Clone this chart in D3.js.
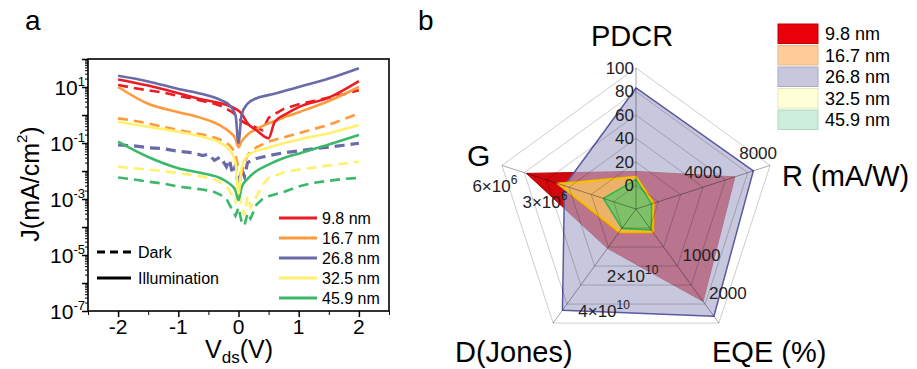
<!DOCTYPE html>
<html>
<head>
<meta charset="utf-8">
<script src="https://cdn.jsdelivr.net/npm/d3@7"></script>
<style>
  body{ margin:0; background:#fff; }
  svg{ font-family:"Liberation Sans", Arial, sans-serif; }
</style>
</head>
<body>
<svg id="fig" width="917" height="369"></svg>
<script>
// ---------- panel a : J-V curves, values are log10(J / mA cm^-2)
var thickness = ["9.8 nm", "16.7 nm", "26.8 nm", "32.5 nm", "45.9 nm"];
var vIllum = [-2, -1.5, -1, -0.6, -0.3, -0.15, -0.05, 0, 0.05, 0.15, 0.3, 0.5, 0.6, 0.8, 1, 1.5, 2];
var illum98  = [1.27, 1.05, 0.78, 0.55, 0.42, 0.32, 0.22, 0.15, 0.05, -0.3, -0.55, -0.83, -0.25, 0.05, 0.28, 0.62, 1.21];
var illum167 = [1.0, 0.4, 0.1, -0.12, -0.38, -0.6, -0.85, -1.15, -0.95, -0.7, -0.5, -0.3, -0.22, -0.05, 0.1, 0.5, 1.0];
var illum268 = [1.4, 1.2, 0.93, 0.75, 0.54, 0.35, 0.0, -1.0, 0.0, 0.4, 0.6, 0.71, 0.76, 0.88, 1.0, 1.3, 1.67];
var illum325 = [-0.24, -0.42, -0.6, -0.78, -1.0, -1.25, -1.7, -2.8, -1.9, -1.45, -1.28, -1.17, -1.1, -0.98, -0.88, -0.65, -0.36];
var illum459 = [-0.95, -1.5, -1.9, -2.08, -2.26, -2.45, -2.7, -3.04, -2.6, -2.28, -2.0, -1.77, -1.67, -1.5, -1.38, -1.05, -0.71];

var vDark = [-2, -1.75, -1.5, -1.25, -1, -0.75, -0.6, -0.5, -0.4, -0.3, -0.2, -0.15, -0.1, -0.05, 0,
             0.05, 0.1, 0.15, 0.2, 0.3, 0.4, 0.5, 0.75, 1, 1.25, 1.5, 1.75, 2];
var dark98  = [1.07, 0.97, 0.88, 0.8, 0.68, 0.58, 0.5, 0.45, 0.4, 0.33, 0.22, 0.16, 0.1, 0.0, -0.12,
               -0.2, -0.28, -0.33, -0.36, -0.45, -0.55, -0.1, 0.22, 0.38, 0.5, 0.62, 0.74, 0.88];
var dark167 = [-0.12, -0.2, -0.3, -0.42, -0.54, -0.64, -0.7, -0.75, -0.8, -0.88, -1.0, -1.08, -1.2, -1.45, -1.9,
               -2.1, -1.7, -1.45, -1.3, -1.15, -1.05, -0.95, -0.8, -0.65, -0.5, -0.35, -0.15, 0.06];
var dark268 = [-1.07, -1.1, -1.17, -1.2, -1.3, -1.35, -1.45, -1.4, -1.62, -1.5, -1.85, -1.6, -2.1, -1.8, -2.6,
               -1.9, -2.2, -1.7, -1.65, -1.55, -1.5, -1.45, -1.35, -1.28, -1.2, -1.15, -1.08, -1.01];
var dark325 = [-1.85, -1.9, -1.95, -2.0, -2.08, -2.15, -2.2, -2.25, -2.3, -2.4, -2.55, -2.7, -2.9, -3.1, -2.7,
               -3.2, -3.6, -2.9, -3.3, -2.9, -2.5, -2.25, -2.05, -1.95, -1.88, -1.8, -1.73, -1.67];
var dark459 = [-2.23, -2.3, -2.38, -2.45, -2.56, -2.62, -2.66, -2.7, -2.75, -2.85, -3.0, -3.2, -3.4, -3.6, -3.3,
               -3.8, -3.95, -3.5, -3.7, -3.2, -3.0, -2.9, -2.75, -2.55, -2.42, -2.35, -2.28, -2.25];

var xTicks = [-2, -1, 0, 1, 2];
var yTickExp = [1, -1, -3, -5, -7];

// ---------- panel b : radar
var radarAxes = ["PDCR", "R (mA/W)", "EQE (%)", "D(Jones)", "G"];
var radarMin = [-20, 0, 0, 0, 0];
var radarMax = [100, 8000, 2000, 4e10, 6e6];
var radar98  = [12, 5900, 1620, 1.38e10, 4.9e6];
var radar167 = [8, 1150, 430, 0.85e10, 3.55e6];
var radar268 = [83, 7000, 1880, 3.55e10, 3.2e6];
var radar325 = [7.5, 1030, 400, 0.8e10, 3.45e6];
var radar459 = [5, 930, 370, 0.68e10, 1.46e6];
var pdcrTicks = [0, 20, 40, 60, 80, 100];
var rTicks = [4000, 8000];
var eqeTicks = [1000, 2000];
var dTicks = [[2, 10], [4, 10]];   // mantissa, exponent
var gTicks = [[3, 6], [6, 6]];

var lineColors = ["#ea1c24", "#ff9a3c", "#6a6aa8", "#fff06e", "#3cb86a"];

var svg = d3.select("#fig");

// ================= panel a =================
var pa = svg.append("g");
var x = d3.scaleLinear().domain([-2.5, 2.5]).range([88, 389]);
var y = d3.scaleLog().domain([1e-7, 1e2]).range([311, 59]);

pa.append("clipPath").attr("id", "clipA")
  .append("rect").attr("x", 88).attr("y", 59).attr("width", 301).attr("height", 252);

function pairs(vs, ls){
  return vs.map(function(v, i){ return [v, Math.pow(10, ls[i])]; });
}
var darkSets = [dark98, dark167, dark268, dark325, dark459];
var illumSets = [illum98, illum167, illum268, illum325, illum459];

var lineDark = d3.line().x(function(d){ return x(d[0]); }).y(function(d){ return y(d[1]); });
var lineIllum = d3.line().x(function(d){ return x(d[0]); }).y(function(d){ return y(d[1]); })
  .curve(d3.curveMonotoneX);

var curves = pa.append("g").attr("clip-path", "url(#clipA)");
[4, 3, 2, 1, 0].forEach(function(k){
  curves.append("path")
    .attr("d", lineDark(pairs(vDark, darkSets[k])))
    .attr("fill", "none").attr("stroke", lineColors[k])
    .attr("stroke-width", k == 2 ? 3.2 : 2.6)
    .attr("stroke-dasharray", "10,6");
});
[4, 3, 1, 0, 2].forEach(function(k){
  curves.append("path")
    .attr("d", lineIllum(pairs(vIllum, illumSets[k])))
    .attr("fill", "none").attr("stroke", lineColors[k])
    .attr("stroke-width", 2.6);
});

// axes
var decades = d3.range(-7, 3).map(function(e){ return Math.pow(10, e); });
var minors = [];
d3.range(-7, 2).forEach(function(e){
  for (var m = 2; m < 10; m++) minors.push(m * Math.pow(10, e));
});
pa.append("g").attr("transform", "translate(88,0)")
  .call(d3.axisLeft(y).tickValues(decades).tickSize(6).tickFormat(""))
  .call(function(g){ g.select(".domain").remove(); g.selectAll("line").attr("stroke-width", 1.5); });
pa.append("g").attr("transform", "translate(88,0)")
  .call(d3.axisLeft(y).tickValues(minors).tickSize(3).tickFormat(""))
  .call(function(g){ g.select(".domain").remove(); });
pa.append("g").attr("transform", "translate(0,311)")
  .call(d3.axisBottom(x).tickValues(xTicks).tickSize(6).tickFormat(""))
  .call(function(g){ g.select(".domain").remove(); g.selectAll("line").attr("stroke-width", 1.5); });
pa.append("g").attr("transform", "translate(0,311)")
  .call(d3.axisBottom(x).tickValues([-2.5, -1.5, -0.5, 0.5, 1.5, 2.5]).tickSize(4).tickFormat(""))
  .call(function(g){ g.select(".domain").remove(); });

pa.append("rect").attr("x", 88).attr("y", 59).attr("width", 301).attr("height", 252)
  .attr("fill", "none").attr("stroke", "#000").attr("stroke-width", 1.6);

pa.selectAll("text.xt").data(xTicks).enter().append("text")
  .attr("x", function(d){ return x(d); }).attr("y", 334)
  .attr("text-anchor", "middle").attr("font-size", 21)
  .text(function(d){ return d < 0 ? "-" + Math.abs(d) : String(d); });

var ytl = pa.selectAll("text.yt").data(yTickExp).enter().append("text")
  .attr("x", 85).attr("y", function(d){ return y(Math.pow(10, d)) + 8; })
  .attr("text-anchor", "end").attr("font-size", 21);
ytl.append("tspan").text("10");
ytl.append("tspan").attr("dy", -9).attr("font-size", 13).text(function(d){ return d < 0 ? "-" + Math.abs(d) : d; });

pa.append("text").attr("transform", "translate(30,184) rotate(-90)")
  .attr("text-anchor", "middle").attr("dominant-baseline", "central").attr("font-size", 25)
  .call(function(t){
    t.append("tspan").text("J(mA/cm");
    t.append("tspan").attr("dy", -9).attr("font-size", 15).text("2");
    t.append("tspan").attr("dy", 9).text(")");
  });
pa.append("text").attr("x", 239).attr("y", 358).attr("text-anchor", "middle").attr("font-size", 25)
  .call(function(t){
    t.append("tspan").text("V");
    t.append("tspan").attr("dy", 5).attr("font-size", 17).text("ds");
    t.append("tspan").attr("dy", -5).text("(V)");
  });
pa.append("text").attr("x", 25).attr("y", 30).attr("font-size", 28).text("a");

// legends
var lg = pa.append("g");
thickness.forEach(function(name, i){
  var yy = 218 + i * 20;
  lg.append("line").attr("x1", 279).attr("x2", 317).attr("y1", yy).attr("y2", yy)
    .attr("stroke", lineColors[i]).attr("stroke-width", 3);
  lg.append("text").attr("x", 322).attr("y", yy + 6).attr("font-size", 16).text(name);
});
lg.append("line").attr("x1", 97).attr("x2", 131).attr("y1", 252).attr("y2", 252)
  .attr("stroke", "#000").attr("stroke-width", 3).attr("stroke-dasharray", "8,5");
lg.append("text").attr("x", 138).attr("y", 258).attr("font-size", 16).text("Dark");
lg.append("line").attr("x1", 97).attr("x2", 131).attr("y1", 278).attr("y2", 278)
  .attr("stroke", "#000").attr("stroke-width", 3);
lg.append("text").attr("x", 138).attr("y", 284).attr("font-size", 16).text("Illumination");

// ================= panel b =================
var pb = svg.append("g");
var cx = 636, cy = 209, R = 141;
var rScales = radarAxes.map(function(a, i){
  return d3.scaleLinear().domain([radarMin[i], radarMax[i]]).range([0, R]);
});
function pt(i, r){
  var a = i * 2 * Math.PI / 5;
  return [cx + r * Math.sin(a), cy - r * Math.cos(a)];
}
function polyPoints(vals){
  return vals.map(function(v, i){ return pt(i, rScales[i](v)); });
}

var polys = [
  {vals: radar98,  fill: "#d2080c", op: 1,    stroke: "#b00000", sw: 1},
  {vals: radar268, fill: "#acacce", op: 0.67, stroke: "#5a5aa0", sw: 1.5},
  {vals: radar167, fill: "#ff9933", op: 0.55, stroke: "#e07b39", sw: 1.2},
  {vals: radar325, fill: "#ffef80", op: 0.4,  stroke: "#f2c200", sw: 2},
  {vals: radar459, fill: "#5cc46a", op: 0.75, stroke: "#2fb34a", sw: 1.5}
];
var lineClosed = d3.line().curve(d3.curveLinearClosed);
polys.forEach(function(p){
  pb.append("path").attr("d", lineClosed(polyPoints(p.vals)))
    .attr("fill", p.fill).attr("fill-opacity", p.op)
    .attr("stroke", p.stroke).attr("stroke-width", p.sw).attr("stroke-linejoin", "round");
});

// grid on top
pdcrTicks.forEach(function(t){
  var r = rScales[0](t);
  pb.append("path").attr("d", lineClosed(d3.range(5).map(function(i){ return pt(i, r); })))
    .attr("fill", "none").attr("stroke", "#000").attr("stroke-opacity", 0.2).attr("stroke-width", 1);
});
d3.range(5).forEach(function(i){
  var e = pt(i, R);
  pb.append("line").attr("x1", cx).attr("y1", cy).attr("x2", e[0]).attr("y2", e[1])
    .attr("stroke", "#000").attr("stroke-opacity", 0.35).attr("stroke-width", 1);
});

// tick labels
pdcrTicks.forEach(function(t){
  pb.append("text").attr("x", cx - 2).attr("y", cy - rScales[0](t))
    .attr("text-anchor", "end").attr("dominant-baseline", "central")
    .attr("font-size", 17).attr("fill", "#222").text(t);
});
// label offsets (dx0, dx1, dy0, dy1) as function of fraction of axis max
var labOff = {1: [12, -24, -18, 6], 2: [39, -30, 8, -38], 3: [25, 26, 32, -44], 4: [-41, 34, 9, 12]};
function placeLabel(i, v){
  var f = v / radarMax[i], o = labOff[i];
  var p = pt(i, rScales[i](v));
  return [p[0] + o[0] + o[1] * f, p[1] + o[2] + o[3] * f];
}
rTicks.forEach(function(v){
  var p = placeLabel(1, v);
  pb.append("text").attr("x", p[0]).attr("y", p[1]).attr("text-anchor", "middle")
    .attr("dominant-baseline", "central").attr("font-size", 17).attr("fill", "#222").text(v);
});
eqeTicks.forEach(function(v){
  var p = placeLabel(2, v);
  pb.append("text").attr("x", p[0]).attr("y", p[1]).attr("text-anchor", "middle")
    .attr("dominant-baseline", "central").attr("font-size", 17).attr("fill", "#222").text(v);
});
function sciLabel(i, m){
  var p = placeLabel(i, m[0] * Math.pow(10, m[1]));
  var t = pb.append("text").attr("x", p[0]).attr("y", p[1] + 6).attr("text-anchor", "middle")
    .attr("font-size", 17).attr("fill", "#222");
  t.append("tspan").text(m[0] + "\u00d710");
  t.append("tspan").attr("dy", -8).attr("font-size", 12).text(m[1]);
}
dTicks.forEach(function(m){ sciLabel(3, m); });
gTicks.forEach(function(m){ sciLabel(4, m); });

// axis titles
pb.append("text").attr("x", 632).attr("y", 46).attr("text-anchor", "middle").attr("font-size", 29).text(radarAxes[0]);
pb.append("text").attr("x", 782).attr("y", 186).attr("font-size", 29).text(radarAxes[1]);
pb.append("text").attr("x", 712).attr("y", 362).attr("font-size", 29).text(radarAxes[2]);
pb.append("text").attr("x", 455).attr("y", 362).attr("font-size", 29).text(radarAxes[3]);
pb.append("text").attr("x", 467).attr("y", 166).attr("font-size", 30).text(radarAxes[4]);
pb.append("text").attr("x", 418).attr("y", 30).attr("font-size", 28).text("b");

// legend
var boxFill = ["#e8000b", "#ffcc99", "#c8c8dc", "#ffffd8", "#cdeedd"];
var boxStroke = ["#c00000", "#e8b888", "#a8a8c8", "#e8e8b8", "#b0d8c0"];
thickness.forEach(function(name, i){
  var yy = 24 + i * 21.5;
  pb.append("rect").attr("x", 778).attr("y", yy).attr("width", 40).attr("height", 19.5)
    .attr("fill", boxFill[i]).attr("stroke", boxStroke[i]).attr("stroke-width", 1);
  pb.append("text").attr("x", 825).attr("y", yy + 16).attr("font-size", 18).text(name);
});
</script>
</body>
</html>
